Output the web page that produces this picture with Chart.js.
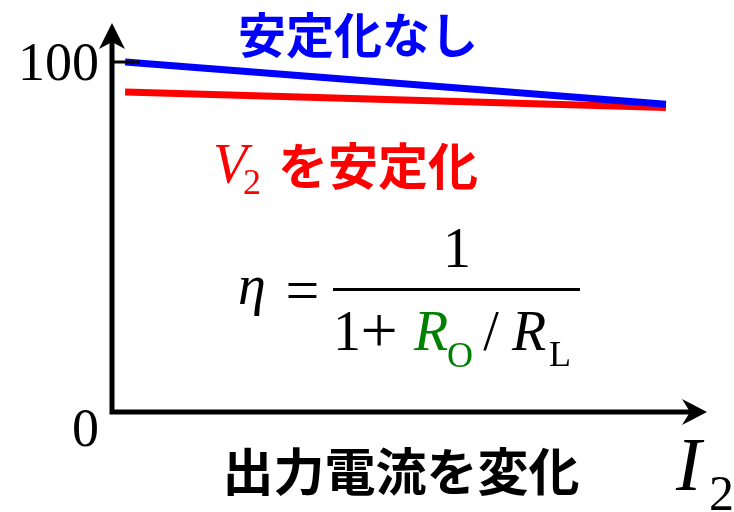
<!DOCTYPE html>
<html>
<head>
<meta charset="utf-8">
<script src="https://cdn.jsdelivr.net/npm/chart.js@4/dist/chart.umd.min.js"></script>
<style>
html,body{margin:0;padding:0;background:#fff;}
#wrap{width:734px;height:512px;position:relative;}
</style>
</head>
<body>
<div id="wrap"><canvas id="c" width="734" height="512"></canvas></div>
<script>
// ---- data ----
const currentX = [2.2, 93.1];          // output current (arbitrary units)
const unregulated = [100, 87.9];       // 安定化なし
const regulatedV2 = [91.4, 87.0];      // V2を安定化
const yTickValues = [0, 100];
const yTickLabels = ['0', '100'];
const seriesNames = ['安定化なし', 'V2を安定化'];

const toPoints = (xs, ys) => xs.map((x, i) => ({x: x, y: ys[i]}));

const SERIF = '"Liberation Serif", "DejaVu Serif", serif';
const CJK = '"Noto Sans CJK JP", "Noto Sans", sans-serif';

function glyph(ctx, t, cx, base) {
  ctx.textAlign = 'center';
  ctx.fillText(t, cx, base);
}

const decor = {
  id: 'decor',
  afterDatasetsDraw(chart) {
    const ctx = chart.ctx;
    const xs = chart.scales.x, ys = chart.scales.y;
    const x0 = xs.getPixelForValue(0);
    const y0 = ys.getPixelForValue(0);
    const y100 = ys.getPixelForValue(100);
    ctx.save();
    ctx.strokeStyle = '#000';
    ctx.fillStyle = '#000';
    // axes
    ctx.lineWidth = 5;
    ctx.lineCap = 'butt';
    ctx.beginPath();
    ctx.moveTo(x0, 42);
    ctx.lineTo(x0, y0);
    ctx.lineTo(690, y0);
    ctx.stroke();
    // y arrow
    ctx.beginPath();
    ctx.moveTo(x0, 23);
    ctx.lineTo(x0 + 13, 49);
    ctx.lineTo(x0, 42);
    ctx.lineTo(x0 - 13, 49);
    ctx.closePath();
    ctx.fill();
    // x arrow
    ctx.beginPath();
    ctx.moveTo(707, y0);
    ctx.lineTo(682, y0 - 13);
    ctx.lineTo(690, y0);
    ctx.lineTo(682, y0 + 13);
    ctx.closePath();
    ctx.fill();
    // tick at 100
    ctx.lineWidth = 3;
    ctx.beginPath();
    ctx.moveTo(x0, y100);
    ctx.lineTo(140, y100);
    ctx.stroke();
    // tick labels
    ctx.font = '54px ' + SERIF;
    ctx.textAlign = 'right';
    ctx.textBaseline = 'alphabetic';
    yTickValues.forEach((v, i) => {
      const py = ys.getPixelForValue(v);
      const base = v === 0 ? py + 34 : py + 18;
      ctx.fillText(yTickLabels[i], 99, base);
    });
    ctx.restore();
  },
  afterDraw(chart) {
    const ctx = chart.ctx;
    ctx.save();
    ctx.textBaseline = 'middle';
    ctx.textAlign = 'center';
    // series labels
    ctx.font = 'bold 48px ' + CJK;
    ctx.fillStyle = '#0000ff';
    ctx.fillText(seriesNames[0], 358, 35);
    ctx.fillStyle = '#ff0000';
    ctx.textAlign = 'left';
    ctx.textBaseline = 'alphabetic';
    ctx.font = 'italic 56px ' + SERIF;
    ctx.fillText('V', 213, 183);
    ctx.font = '36px ' + SERIF;
    ctx.fillText('2', 243, 194);
    ctx.font = 'bold 50px ' + CJK;
    ctx.textAlign = 'center';
    ctx.textBaseline = 'middle';
    ctx.fillText('を安定化', 378, 166);
    // x axis description
    ctx.fillStyle = '#000';
    ctx.font = 'bold 51px ' + CJK;
    ctx.fillText('出力電流を変化', 401, 472);
    // I2
    ctx.textAlign = 'left';
    ctx.textBaseline = 'alphabetic';
    ctx.font = 'italic 76px ' + SERIF;
    ctx.fillText('I', 676, 490);
    ctx.font = '50px ' + SERIF;
    ctx.fillText('2', 709, 510);
    // formula
    ctx.font = 'italic 56px ' + SERIF;
    glyph(ctx, '\u03b7', 252, 304);
    ctx.font = '60px ' + SERIF;
    glyph(ctx, '=', 302.5, 310);
    ctx.font = '56px ' + SERIF;
    glyph(ctx, '1', 457, 267);
    ctx.lineWidth = 3;
    ctx.strokeStyle = '#000';
    ctx.beginPath();
    ctx.moveTo(333, 289.5);
    ctx.lineTo(580, 289.5);
    ctx.stroke();
    glyph(ctx, '1', 347, 350);
    ctx.font = '66px ' + SERIF;
    glyph(ctx, '+', 379, 352);
    ctx.fillStyle = '#008000';
    ctx.font = 'italic 56px ' + SERIF;
    glyph(ctx, 'R', 431, 350);
    ctx.font = '36px ' + SERIF;
    glyph(ctx, 'O', 460, 367);
    ctx.fillStyle = '#000';
    ctx.font = '56px ' + SERIF;
    glyph(ctx, '/', 491, 350);
    ctx.font = 'italic 56px ' + SERIF;
    glyph(ctx, 'R', 529, 350);
    ctx.font = '36px ' + SERIF;
    glyph(ctx, 'L', 560, 366);
    ctx.restore();
  }
};

new Chart(document.getElementById('c'), {
  type: 'line',
  data: {
    datasets: [
      {label: seriesNames[0], data: toPoints(currentX, unregulated), borderColor: '#0000ff', borderWidth: 7, pointRadius: 0, clip: false, tension: 0},
      {label: seriesNames[1], data: toPoints(currentX, regulatedV2), borderColor: '#ff0000', borderWidth: 7, pointRadius: 0, clip: false, tension: 0}
    ]
  },
  options: {
    responsive: false,
    animation: false,
    events: [],
    layout: {padding: {left: 112, right: 27, top: 62, bottom: 100}},
    plugins: {legend: {display: false}, tooltip: {enabled: false}},
    scales: {
      x: {type: 'linear', min: 0, max: 100, display: false},
      y: {type: 'linear', min: 0, max: 100, display: false}
    }
  },
  plugins: [decor]
});
</script>
</body>
</html>
